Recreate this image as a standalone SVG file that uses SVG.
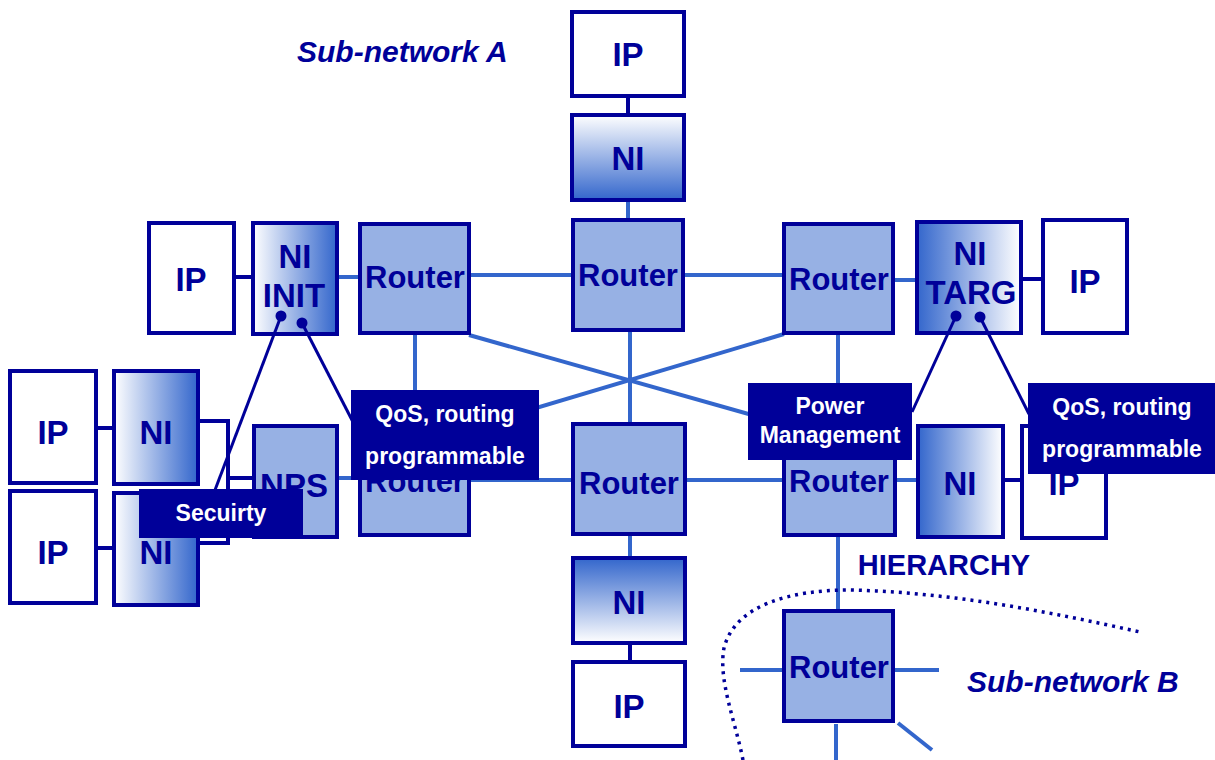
<svg xmlns="http://www.w3.org/2000/svg" width="1215" height="760" viewBox="0 0 1215 760">
<defs>
<linearGradient id="gLR" x1="0" y1="0" x2="1" y2="0"><stop offset="0" stop-color="#ffffff"/><stop offset="1" stop-color="#3366cc"/></linearGradient>
<linearGradient id="gRL" x1="1" y1="0" x2="0" y2="0"><stop offset="0" stop-color="#ffffff"/><stop offset="1" stop-color="#3366cc"/></linearGradient>
<linearGradient id="gTB" x1="0" y1="0" x2="0" y2="1"><stop offset="0" stop-color="#ffffff"/><stop offset="1" stop-color="#3366cc"/></linearGradient>
<linearGradient id="gBT" x1="0" y1="1" x2="0" y2="0"><stop offset="0" stop-color="#ffffff"/><stop offset="1" stop-color="#3366cc"/></linearGradient>
<style>
.box{stroke:#000099;stroke-width:4}
.ip{fill:#ffffff}
.rt{fill:#97b1e4}
.t{font-family:"Liberation Sans",Arial,sans-serif;font-weight:bold;fill:#000099;text-anchor:middle}
.big{font-size:33px}
.rtt{font-size:31px}
.lb{fill:#000099}
.lt{font-family:"Liberation Sans",Arial,sans-serif;font-weight:bold;fill:#ffffff;text-anchor:middle;font-size:23px}
.bl{stroke:#3366cc;stroke-width:4;fill:none}
.nv{stroke:#000099;stroke-width:4;fill:none}
.pt{stroke:#000099;stroke-width:3;fill:none}
.sub{font-family:"Liberation Sans",Arial,sans-serif;font-weight:bold;font-style:italic;fill:#000099;font-size:30px}
</style>
</defs>
<rect width="1215" height="760" fill="#ffffff"/>

<g id="connectors">
<line class="nv" x1="628" y1="96" x2="628" y2="115"/>
<line class="bl" x1="628" y1="200" x2="628" y2="220"/>
<line class="nv" x1="234" y1="277" x2="253" y2="277"/>
<line class="bl" x1="337" y1="277" x2="360" y2="277"/>
<line class="bl" x1="469" y1="275" x2="573" y2="275"/>
<line class="bl" x1="683" y1="275" x2="784" y2="275"/>
<line class="bl" x1="893" y1="280" x2="917" y2="280"/>
<line class="nv" x1="1021" y1="279" x2="1043" y2="279"/>
<line class="bl" x1="415" y1="333" x2="415" y2="426"/>
<line class="bl" x1="630" y1="330" x2="630" y2="424"/>
<line class="bl" x1="838" y1="333" x2="838" y2="426"/>
<line class="bl" x1="469" y1="335" x2="784" y2="424"/>
<line class="bl" x1="784" y1="334" x2="469" y2="428"/>
<line class="bl" x1="337" y1="478" x2="360" y2="478"/>
<line class="bl" x1="469" y1="480" x2="573" y2="480"/>
<line class="bl" x1="685" y1="480" x2="784" y2="480"/>
<line class="bl" x1="895" y1="480" x2="918" y2="480"/>
<line class="nv" x1="1003" y1="480" x2="1022" y2="480"/>
<line class="bl" x1="630" y1="534" x2="630" y2="558"/>
<line class="nv" x1="630" y1="643" x2="630" y2="662"/>
<polyline class="nv" points="198,421 228,421 228,543 198,543"/>
<line class="nv" x1="228" y1="478" x2="254" y2="478"/>
<line class="nv" x1="96" y1="428" x2="114" y2="428"/>
<line class="nv" x1="96" y1="548" x2="114" y2="548"/>
<line class="bl" x1="838" y1="535" x2="838" y2="611"/>
<line class="bl" x1="740" y1="670" x2="784" y2="670"/>
<line class="bl" x1="895" y1="670" x2="939" y2="670"/>
<line class="bl" x1="836" y1="724" x2="836" y2="760"/>
<line class="bl" x1="898" y1="723" x2="932" y2="750"/>
<path d="M743,760 C735,720 718,680 724,648 C735,605 790,590 850,590 C950,592 1050,612 1140,632" stroke="#000099" stroke-width="3.5" fill="none" stroke-dasharray="3,5"/>
</g>

<g id="ip-top"><rect class="box ip" x="572" y="12" width="112" height="84"/><text class="t big" x="628" y="66">IP</text></g>
<g id="ni-top"><rect class="box" fill="url(#gTB)" x="572" y="115" width="112" height="85"/><text class="t big" x="628" y="170">NI</text></g>
<g id="ip-left"><rect class="box ip" x="149" y="223" width="85" height="110"/><text class="t big" x="191" y="291">IP</text></g>
<g id="ni-init"><rect class="box" fill="url(#gLR)" x="253" y="223" width="84" height="111"/><text class="t big" x="295" y="268">NI</text><text class="t big" x="294" y="307">INIT</text></g>
<g id="router1"><rect class="box rt" x="360" y="224" width="109" height="109"/><text class="t rtt" x="415" y="288">Router</text></g>
<g id="router2"><rect class="box rt" x="573" y="220" width="110" height="110"/><text class="t rtt" x="628" y="286">Router</text></g>
<g id="router3"><rect class="box rt" x="784" y="224" width="109" height="109"/><text class="t rtt" x="839" y="290">Router</text></g>
<g id="ni-targ"><rect class="box" fill="url(#gRL)" x="917" y="222" width="104" height="111"/><text class="t big" x="970" y="265">NI</text><text class="t big" x="971" y="304">TARG</text></g>
<g id="ip-right"><rect class="box ip" x="1043" y="220" width="84" height="113"/><text class="t big" x="1085" y="293">IP</text></g>

<g id="ip-l1"><rect class="box ip" x="10" y="371" width="86" height="112"/><text class="t big" x="53" y="444">IP</text></g>
<g id="ni-l1"><rect class="box" fill="url(#gLR)" x="114" y="371" width="84" height="113"/><text class="t big" x="156" y="444">NI</text></g>
<g id="ip-l2"><rect class="box ip" x="10" y="491" width="86" height="112"/><text class="t big" x="53" y="564">IP</text></g>
<g id="ni-l2"><rect class="box" fill="url(#gLR)" x="114" y="493" width="84" height="112"/><text class="t big" x="156" y="564">NI</text></g>
<g id="nps"><rect class="box rt" x="254" y="426" width="83" height="111"/><text class="t big" x="294" y="497">NPS</text></g>
<g id="router4"><rect class="box rt" x="360" y="426" width="109" height="109"/><text class="t rtt" x="415" y="492">Router</text></g>
<g id="router5"><rect class="box rt" x="573" y="424" width="112" height="110"/><text class="t rtt" x="629" y="494">Router</text></g>
<g id="router6"><rect class="box rt" x="784" y="426" width="111" height="109"/><text class="t rtt" x="839" y="492">Router</text></g>
<g id="ni-r2"><rect class="box" fill="url(#gRL)" x="918" y="426" width="85" height="111"/><text class="t big" x="960" y="495">NI</text></g>
<g id="ip-r2"><rect class="box ip" x="1022" y="426" width="84" height="112"/><text class="t big" x="1064" y="495">IP</text></g>
<g id="ni-bottom"><rect class="box" fill="url(#gBT)" x="573" y="558" width="112" height="85"/><text class="t big" x="629" y="614">NI</text></g>
<g id="ip-bottom"><rect class="box ip" x="573" y="662" width="112" height="84"/><text class="t big" x="629" y="718">IP</text></g>
<g id="router7"><rect class="box rt" x="784" y="611" width="109" height="110"/><text class="t rtt" x="839" y="678">Router</text></g>

<g id="pointers">
<line class="pt" x1="281" y1="316" x2="215" y2="490"/>
<line class="pt" x1="302" y1="323" x2="353" y2="422"/>
<circle cx="281" cy="316" r="5.5" fill="#000099"/>
<circle cx="302" cy="323" r="5.5" fill="#000099"/>
<line class="pt" x1="956" y1="316" x2="912" y2="412"/>
<line class="pt" x1="980" y1="317" x2="1029" y2="414"/>
<circle cx="956" cy="316" r="5.5" fill="#000099"/>
<circle cx="980" cy="317" r="5.5" fill="#000099"/>
</g>

<g id="label-qos-left"><rect class="lb" x="351" y="390" width="188" height="90"/><text class="lt" x="445" y="422">QoS, routing</text><text class="lt" x="445" y="464">programmable</text></g>
<g id="label-power"><rect class="lb" x="748" y="383" width="164" height="77"/><text class="lt" x="830" y="414" font-size="22">Power</text><text class="lt" x="830" y="443">Management</text></g>
<g id="label-qos-right"><rect class="lb" x="1028" y="383" width="187" height="91"/><text class="lt" x="1122" y="415">QoS, routing</text><text class="lt" x="1122" y="457">programmable</text></g>
<g id="label-security"><rect class="lb" x="139" y="489" width="164" height="49"/><text class="lt" x="221" y="521">Secuirty</text></g>

<g id="titles">
<text class="sub" x="297" y="62">Sub-network A</text>
<text class="sub" x="967" y="692">Sub-network B</text>
<text class="t" x="944" y="575" font-size="29" style="text-anchor:middle">HIERARCHY</text>
</g>
</svg>
